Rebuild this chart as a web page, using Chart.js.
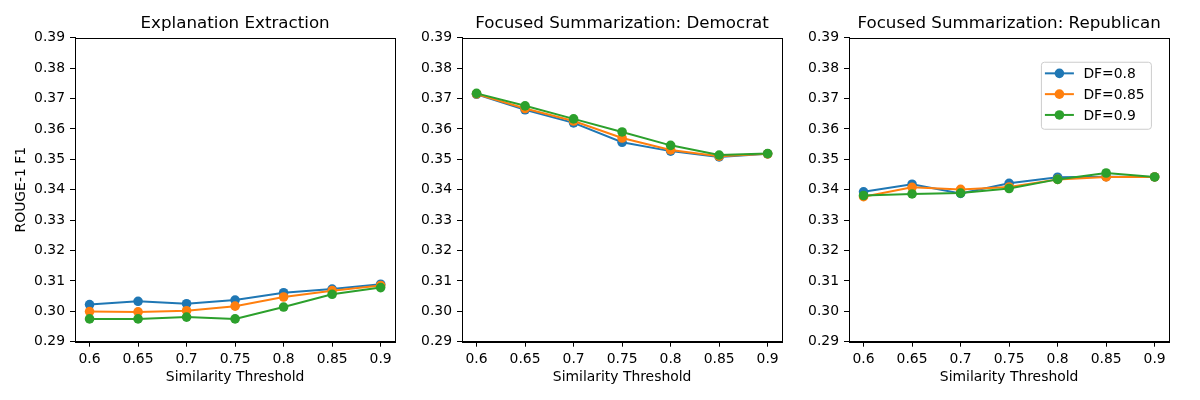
<!DOCTYPE html>
<html>
<head>
<meta charset="utf-8">
<script src="https://cdn.jsdelivr.net/npm/chart.js@4.4.0/dist/chart.umd.min.js"></script>
<style>
  body { margin: 0; background: #fff; }
  #wrap { position: relative; width: 1200px; height: 400px; }
  #wrap canvas { position: absolute; top: 0; }
</style>
</head>
<body>
<div id="wrap">
  <canvas id="c1" width="400" height="400" style="left:0px"></canvas>
  <canvas id="c2" width="387" height="400" style="left:400px"></canvas>
  <canvas id="c3" width="387" height="400" style="left:787px"></canvas>
</div>
<script>
// data
const thresholds = [0.6, 0.65, 0.7, 0.75, 0.8, 0.85, 0.9];
const xTickLabels = ["0.6", "0.65", "0.7", "0.75", "0.8", "0.85", "0.9"];
const yTicks = [0.29, 0.30, 0.31, 0.32, 0.33, 0.34, 0.35, 0.36, 0.37, 0.38, 0.39];
const yTickLabels = ["0.29", "0.30", "0.31", "0.32", "0.33", "0.34", "0.35", "0.36", "0.37", "0.38", "0.39"];
const seriesNames = ["DF=0.8", "DF=0.85", "DF=0.9"];
const seriesColors = ["#1f77b4", "#ff7f0e", "#2ca02c"];

const explDF08 = [0.3022, 0.3033, 0.3025, 0.3037, 0.3061, 0.3073, 0.3089];
const explDF085 = [0.2999, 0.2998, 0.3002, 0.3017, 0.3047, 0.3068, 0.3085];
const explDF09 = [0.2975, 0.2975, 0.2981, 0.2975, 0.3014, 0.3056, 0.3078];

const demDF08 = [0.3714, 0.3663, 0.3620, 0.3556, 0.3527, 0.3508, 0.3518];
const demDF085 = [0.3715, 0.3667, 0.3626, 0.3570, 0.3531, 0.3510, 0.3518];
const demDF09 = [0.3717, 0.3676, 0.3633, 0.3590, 0.3546, 0.3514, 0.3519];

const repDF08 = [0.3393, 0.3418, 0.3388, 0.3421, 0.3441, 0.3443, 0.3442];
const repDF085 = [0.3377, 0.3408, 0.3401, 0.3409, 0.3434, 0.3442, 0.3442];
const repDF09 = [0.3381, 0.3386, 0.3389, 0.3404, 0.3434, 0.3455, 0.3442];

const FONT = "'DejaVu Sans', sans-serif";

// axes frame like matplotlib spines
const framePlugin = {
  id: "frame",
  afterDraw(chart) {
    const a = chart.chartArea, ctx = chart.ctx;
    ctx.save();
    ctx.strokeStyle = "#000";
    ctx.lineWidth = 1;
    ctx.strokeRect(Math.round(a.left) + 0.5, Math.round(a.top) + 0.5,
      Math.round(a.right - a.left), Math.round(a.bottom - a.top));
    ctx.restore();
  }
};

// legend drawn inside the plot area
const innerLegend = {
  id: "innerLegend",
  afterDraw(chart, args, opts) {
    if (!opts.show) return;
    const a = chart.chartArea, ctx = chart.ctx;
    const w = 110, h = 67;
    const x = a.right - opts.right - w, y = a.top + opts.top;
    ctx.save();
    ctx.beginPath();
    ctx.roundRect(x + 0.5, y + 0.5, w, h, 3);
    ctx.fillStyle = "rgba(255,255,255,0.8)";
    ctx.fill();
    ctx.strokeStyle = "#cccccc";
    ctx.lineWidth = 1;
    ctx.stroke();
    ctx.font = "13.9px " + FONT;
    ctx.textBaseline = "middle";
    chart.data.datasets.forEach((ds, i) => {
      const ry = y + 11.6 + i * 20.8;
      ctx.strokeStyle = ds.borderColor;
      ctx.lineWidth = 2;
      ctx.beginPath();
      ctx.moveTo(x + 4, ry);
      ctx.lineTo(x + 33, ry);
      ctx.stroke();
      ctx.fillStyle = ds.borderColor;
      ctx.beginPath();
      ctx.arc(x + 18.5, ry, 4.8, 0, Math.PI * 2);
      ctx.fill();
      ctx.fillStyle = "#000";
      ctx.fillText(ds.label, x + 42.5, ry + 1);
    });
    ctx.restore();
  }
};

function makeChart(id, title, series, yAxisWidth, showYTitle, showLegend) {
  const ctx = document.getElementById(id).getContext("2d");
  return new Chart(ctx, {
    type: "line",
    data: {
      datasets: series.map(function (vals, i) {
        return {
          label: seriesNames[i],
          data: vals.map(function (v, j) { return { x: thresholds[j], y: v }; }),
          borderColor: seriesColors[i],
          backgroundColor: seriesColors[i],
          pointBackgroundColor: seriesColors[i],
          borderWidth: 2,
          pointRadius: 4.8,
          pointBorderWidth: 0,
          tension: 0,
          order: 2 - i,
        };
      }),
    },
    options: {
      responsive: false,
      animation: false,
      devicePixelRatio: 1,
      layout: { padding: { left: 0, right: 3, top: 0, bottom: 0 } },
      scales: {
        x: {
          type: "linear",
          min: 0.585,
          max: 0.915,
          afterBuildTicks: (s) => { s.ticks = thresholds.map((v) => ({ value: v })); },
          afterFit: (s) => { s.height = 58.3; s.paddingLeft = 0; s.paddingRight = 0; },
          grid: { drawOnChartArea: false, drawTicks: true, tickLength: 5, color: "#000" },
          border: { display: true, color: "#000", width: 1 },
          ticks: {
            autoSkip: false, maxRotation: 0, padding: 4, color: "#000",
            font: { family: FONT, size: 13.9 },
            callback: (v, i) => xTickLabels[i],
          },
          title: {
            display: true, text: "Similarity Threshold", color: "#000",
            font: { family: FONT, size: 13.9 },
            padding: { top: 0, bottom: 14.7 },
          },
        },
        y: {
          min: 0.29,
          max: 0.39,
          afterBuildTicks: (s) => { s.ticks = yTicks.map((v) => ({ value: v })); },
          afterFit: (s) => { s.width = yAxisWidth; s.paddingTop = 0; s.paddingBottom = 0; },
          grid: { drawOnChartArea: false, drawTicks: true, tickLength: 5, color: "#000" },
          border: { display: true, color: "#000", width: 1 },
          ticks: {
            autoSkip: false, padding: 5, color: "#000",
            font: { family: FONT, size: 13.9 },
            callback: (v, i) => yTickLabels[i],
          },
          title: {
            display: showYTitle, text: "ROUGE-1 F1", color: "#000",
            font: { family: FONT, size: 13.9 },
            padding: { top: 12.7, bottom: 0 },
          },
        },
      },
      plugins: {
        legend: { display: false },
        tooltip: { enabled: false },
        title: {
          display: true, text: title, color: "#000",
          fullSize: false,
          font: { family: FONT, size: 16.7, weight: "normal" },
          padding: { top: 14, bottom: 3.7 },
        },
        innerLegend: { show: showLegend, right: 18.3, top: 24 },
      },
    },
    plugins: [framePlugin, innerLegend],
  });
}

makeChart("c1", "Explanation Extraction", [explDF08, explDF085, explDF09], 75, true, false);
makeChart("c2", "Focused Summarization: Democrat", [demDF08, demDF085, demDF09], 62, false, false);
makeChart("c3", "Focused Summarization: Republican", [repDF08, repDF085, repDF09], 62, false, true);
</script>
</body>
</html>
